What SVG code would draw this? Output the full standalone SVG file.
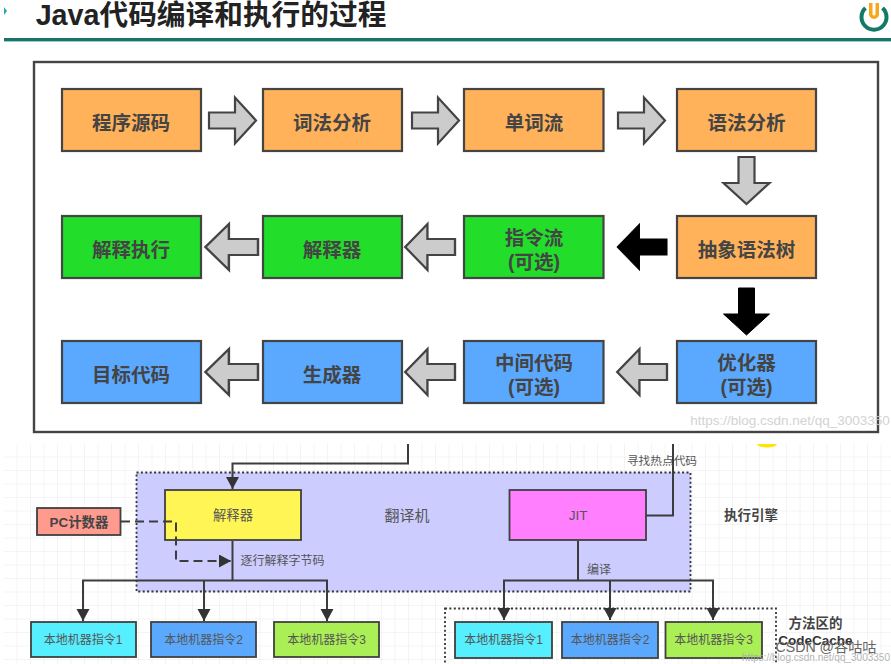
<svg xmlns="http://www.w3.org/2000/svg" width="891" height="664" viewBox="0 0 891 664">
<style>
text{font-family:"Liberation Sans","Noto Sans CJK SC",sans-serif;text-anchor:middle;dominant-baseline:central}
.b{stroke:#444;stroke-width:2.2}
.o{fill:#ffb25a}.g{fill:#22dd2a}.u{fill:#5aa9ff}
.t{font-size:19.5px;font-weight:700;fill:#444}
.a{fill:#ccc;stroke:#444;stroke-width:2.2}
.k{fill:#000;stroke:#000;stroke-width:1}
.n{stroke:#404040;stroke-width:1.8}
.s{font-size:12px;fill:#555}
.l{fill:none;stroke:#3c3c3c;stroke-width:2}
.d{fill:none;stroke:#333;stroke-width:1.8;stroke-dasharray:2 2.4}
.w{fill:#ccc;opacity:.85}
</style>
<defs>
<pattern id="grid" x="4" y="444" width="13.5" height="13.5" patternUnits="userSpaceOnUse"><path d="M13.5 0V13.5H0" fill="none" stroke="#e9e9e9" stroke-width="1"/></pattern>
<marker id="h" markerUnits="userSpaceOnUse" markerWidth="13" markerHeight="14" refX="12" refY="6.5" orient="auto"><path d="M0 0L12 6.500L0 13Z" fill="#333"/></marker>
<path id="ar" d="M0-8H26V-23L47 0L26 23V8H0Z"/>
</defs>
<rect width="891" height="664" fill="#fff"/>
<rect x="4" y="444" width="887" height="220" fill="url(#grid)"/>
<g id="header">
<path d="M4 7L7 11L4 15Z" fill="#2aa"/>
<text x="211" y="15" style="font-size:28.700px;font-weight:700;fill:#222">Java代码编译和执行的过程</text>
<rect x="4" y="38" width="887" height="3.400" fill="#17756b"/>
<path d="M865.500 8A12.500 12.500 0 1 0 882.500 8" fill="none" stroke="#137a68" stroke-width="4"/>
<path d="M869 3V14A5 5 0 0 0 879 14V3Z" fill="#f5a81c"/><path d="M872.500 3V14A1.500 1.500 0 0 0 875.500 14V3Z" fill="#fff"/>
</g>
<rect id="frame" x="34" y="62" width="844" height="370" fill="#fff" stroke="#444" stroke-width="2.400"/>
<g id="flow-arrows">
<use href="#ar" class="a" x="209" y="120.500"/>
<use href="#ar" class="a" x="412" y="120.500"/>
<use href="#ar" class="a" x="618" y="120.500"/>
<use href="#ar" class="a" transform="translate(746.500 157) rotate(90)"/>
<use href="#ar" class="k" transform="translate(667 247) rotate(180) scale(1.060 1)"/>
<use href="#ar" class="a" transform="translate(455 247) rotate(180) scale(1.060 1)"/>
<use href="#ar" class="a" transform="translate(258 247) rotate(180) scale(1.120 1)"/>
<use href="#ar" class="k" transform="translate(746.500 288) rotate(90)"/>
<use href="#ar" class="a" transform="translate(667 372) rotate(180) scale(1.060 1)"/>
<use href="#ar" class="a" transform="translate(455 372) rotate(180) scale(1.060 1)"/>
<use href="#ar" class="a" transform="translate(258 372) rotate(180) scale(1.120 1)"/>
</g>
<g id="n1"><rect class="b o" x="62" y="89" width="139" height="62"/><text class="t" x="131" y="123">程序源码</text></g>
<g id="n2"><rect class="b o" x="263" y="89" width="139" height="62"/><text class="t" x="332" y="123">词法分析</text></g>
<g id="n3"><rect class="b o" x="464" y="89" width="139.500" height="62"/><text class="t" x="534" y="123">单词流</text></g>
<g id="n4"><rect class="b o" x="677" y="89" width="139" height="62"/><text class="t" x="746.500" y="123">语法分析</text></g>
<g id="n5"><rect class="b g" x="62" y="216" width="139" height="62"/><text class="t" x="131" y="250">解释执行</text></g>
<g id="n6"><rect class="b g" x="263" y="216" width="139" height="62"/><text class="t" x="332" y="250">解释器</text></g>
<g id="n7"><rect class="b g" x="464" y="216" width="139.500" height="62"/><text class="t" x="534" y="238">指令流</text><text class="t" x="534" y="262">(可选)</text></g>
<g id="n8"><rect class="b o" x="677" y="216" width="139" height="62"/><text class="t" x="746.500" y="250">抽象语法树</text></g>
<g id="n9"><rect class="b u" x="62" y="341" width="139" height="62"/><text class="t" x="131" y="375">目标代码</text></g>
<g id="n10"><rect class="b u" x="263" y="341" width="139" height="62"/><text class="t" x="332" y="375">生成器</text></g>
<g id="n11"><rect class="b u" x="464" y="341" width="139.500" height="62"/><text class="t" x="534" y="363">中间代码</text><text class="t" x="534" y="387">(可选)</text></g>
<g id="n12"><rect class="b u" x="677" y="341" width="139" height="62"/><text class="t" x="746.500" y="363">优化器</text><text class="t" x="746.500" y="387">(可选)</text></g>
<g id="engine"><rect x="136.500" y="472.500" width="554" height="119" fill="#ccf" stroke="#333" stroke-width="1.800" stroke-dasharray="2 2.400"/><text x="407" y="515" style="font-size:15px;fill:#555">翻译机</text></g>
<rect id="codecache" class="d" x="445" y="608.500" width="331" height="70"/>
<g id="interpreter"><rect class="n" x="165" y="490" width="136" height="50" fill="#fff555"/><text class="s" x="233" y="515" style="font-size:13.300px">解释器</text></g>
<g id="jit"><rect class="n" x="509.500" y="490" width="136.500" height="50" fill="#ff7fff"/><text class="s" x="578" y="515" style="font-size:13.500px">JIT</text></g>
<g id="pc"><rect class="n" x="37" y="508" width="83.500" height="27" fill="#ff9a8e"/><text x="79" y="522" style="font-size:13.400px;font-weight:700;fill:#444">PC计数器</text></g>
<g id="a1"><rect class="n" x="31" y="622" width="105" height="35" fill="#55efff"/><text class="s" x="83" y="640">本地机器指令1</text></g>
<g id="a2"><rect class="n" x="151" y="622" width="105" height="35" fill="#5aa9ff"/><text class="s" x="203.500" y="640">本地机器指令2</text></g>
<g id="a3"><rect class="n" x="274" y="622" width="105" height="35" fill="#a9ef55"/><text class="s" x="326.500" y="640">本地机器指令3</text></g>
<g id="b1"><rect class="n" x="455" y="622" width="97" height="36" fill="#55efff"/><text class="s" x="503.500" y="640">本地机器指令1</text></g>
<g id="b2"><rect class="n" x="562" y="622" width="96" height="36" fill="#5aa9ff"/><text class="s" x="610" y="640">本地机器指令2</text></g>
<g id="b3"><rect class="n" x="665.500" y="622" width="96.500" height="36" fill="#a9ef55"/><text class="s" x="713.500" y="640">本地机器指令3</text></g>
<g id="connectors">
<path class="l" d="M408 444V463.500H232.500V489" marker-end="url(#h)"/>
<path class="l" d="M232.500 541V581"/>
<path class="l" d="M83 621V580.500H327V621" marker-end="url(#h)"/>
<path class="l" d="M83 581V621" marker-end="url(#h)"/>
<path class="l" d="M204 581V621" marker-end="url(#h)"/>
<path class="l" d="M646 515.500H673V444"/>
<path class="l" d="M578 541V581"/>
<path class="l" d="M504 620V580.500H713V620" marker-end="url(#h)"/>
<path class="l" d="M504 581V620" marker-end="url(#h)"/>
<path class="l" d="M610 581V620" marker-end="url(#h)"/>
<path d="M121 521.500H176V561H231" fill="none" stroke="#3c3c3c" stroke-width="2" stroke-dasharray="9 5" marker-end="url(#h)"/>
</g>
<g id="labels">
<text class="s" x="282.500" y="561">逐行解释字节码</text>
<text class="s" x="662" y="460" style="font-size:11.700px">寻找热点代码</text>
<text class="s" x="599" y="570">编译</text>
<text x="751" y="515" style="font-size:13.500px;font-weight:700;fill:#444">执行引擎</text>
<text x="815.500" y="623" style="font-size:13.500px;font-weight:700;fill:#444">方法区的</text>
<text x="815.500" y="640" style="font-size:13.500px;font-weight:700;fill:#333">CodeCache</text>
</g>
<path id="mark" d="M757 444A10 3.500 0 0 0 777 444Z" fill="#ffe600"/>
<g id="watermarks">
<text class="w" x="790" y="420" style="font-size:13.500px">https://blog.csdn.net/qq_3003350</text>
<text x="826" y="647" style="font-size:14.200px;fill:#666">CSDN @谷咕咕</text>
<text class="w" x="816" y="657" style="font-size:10px;fill:#aaa">https://blog.csdn.net/qq_3003350</text>
</g>
</svg>
